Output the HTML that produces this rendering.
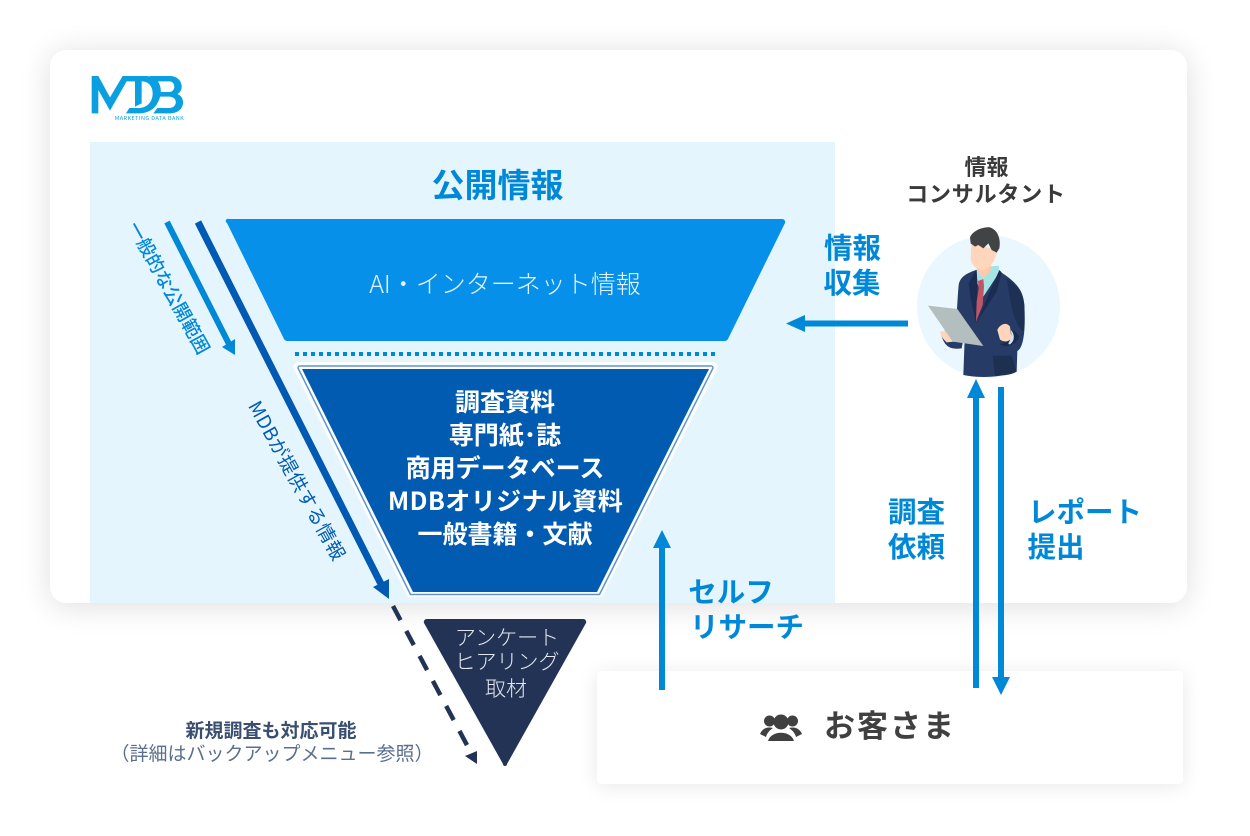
<!DOCTYPE html>
<html lang="ja"><head><meta charset="utf-8"><style>
html,body{margin:0;padding:0;background:#fff}
svg{display:block}
text{font-family:"Noto Sans CJK JP","Liberation Sans",sans-serif;text-anchor:middle}
.b{font-weight:700;fill:#0088D8;font-size:28.5px}
.w{font-weight:700;fill:#fff;font-size:25px}
</style></head><body>
<svg xmlns="http://www.w3.org/2000/svg" width="1250" height="836" viewBox="0 0 1250 836">
<defs>
<filter id="s1" x="-10%" y="-15%" width="120%" height="130%"><feGaussianBlur stdDeviation="16"/></filter>
<filter id="s2" x="-10%" y="-30%" width="120%" height="160%"><feGaussianBlur stdDeviation="10"/></filter>
</defs>
<rect x="50" y="53" width="1137" height="553" rx="16" fill="#000" opacity=".13" filter="url(#s1)"/>
<rect x="50" y="50" width="1137" height="553" rx="16" fill="#fff"/>
<rect x="90" y="142" width="745" height="461" fill="#E5F5FE"/>

<!-- logo -->
<g transform="translate(70,60) scale(.3333)" fill="#0A9FE0">
<path d="M65,48H85L120,112 158,48H228C275,48 282,98 262,130C250,152 228,160 205,160H168L178,144H205C232,144 248,125 248,100C248,78 235,64 215,64V130L195,140V64H170L120,152 85,90V160H65Z"/>
<path d="M240,48H300C338,48 345,92 322,102C350,112 345,160 300,160H250L262,144H298C322,144 326,112 298,110H268V96H298C318,96 318,64 298,64H250Z"/>
</g>
<text x="149.500" y="120" style="font-size:5.500px;font-weight:400;fill:#0A9FE0;letter-spacing:.45px">MARKETING DATA BANK</text>

<text x="497.500" y="197" style="font-size:33px;font-weight:700;fill:#0088D8">公開情報</text>

<!-- trapezoids -->
<path d="M229,219H782a3,3 0 0 1 3,4L728,339a4,4 0 0 1 -3,2H287a4,4 0 0 1 -3,-2L227,223a2,2 0 0 1 2,-4Z" fill="#0690E9"/>
<text x="505" y="293" style="font-size:25px;font-weight:300;fill:#E4F3FD">AI・インターネット情報</text>
<line x1="295" y1="354" x2="715" y2="354" stroke="#0088D8" stroke-width="4" stroke-dasharray="4 4"/>
<path d="M299,362H712a5,5 0 0 1 5,7L602,597H408L294,369a5,5 0 0 1 5,-7Z" fill="#fff"/>
<path d="M300,366H711a2,2 0 0 1 2,2L599.500,594.500H410.500L298,368a2,2 0 0 1 2,-2Z" fill="#fff" stroke="#5B96CF" stroke-width="1.500" stroke-linejoin="round"/>
<path d="M302,369H709L597,592H413Z" fill="#005BB1"/>
<text class="w" x="505" y="411">調査資料</text>
<text class="w" x="505" y="444">専門紙･誌</text>
<text class="w" x="505" y="477">商用データベース</text>
<text class="w" x="505.500" y="510" style="letter-spacing:.4px">MDBオリジナル資料</text>
<text class="w" x="505" y="543">一般書籍・文献</text>

<!-- side arrows -->
<line x1="167" y1="222" x2="229" y2="344" stroke="#0088D8" stroke-width="6"/>
<path d="M235,355L222,347L235,339Z" fill="#0088D8"/>
<line x1="198" y1="222" x2="382" y2="586" stroke="#0059B2" stroke-width="7"/>
<path d="M389,599L373,587L389,579Z" fill="#0059B2"/>
<text transform="translate(163,291) rotate(61)" style="font-size:18.500px;fill:#0088D8;font-weight:500">一般的な公開範囲</text>
<text transform="translate(291,484) rotate(61)" style="font-size:19px;fill:#005BB1;font-weight:400;letter-spacing:.5px">MDBが提供する情報</text>
<line x1="393" y1="606" x2="468" y2="747" stroke="#223355" stroke-width="4.500" stroke-dasharray="16 12.300"/>
<path d="M477,764L465,756L477,751Z" fill="#223355"/>

<!-- small triangle -->
<path d="M427,619H583a3,3 0 0 1 3,4L507,764a2,2 0 0 1 -4,0L424,623a3,3 0 0 1 3,-4Z" fill="#223355"/>
<text x="507" y="645" style="font-size:21px;fill:#E2E7ED;font-weight:300">アンケート</text>
<text x="507" y="669" style="font-size:21px;fill:#E2E7ED;font-weight:300">ヒアリング</text>
<text x="506" y="696" style="font-size:21px;fill:#E2E7ED;font-weight:300">取材</text>
<text x="271" y="737" style="font-size:19px;font-weight:700;fill:#3A4F70">新規調査も対応可能</text>
<text x="272" y="760" style="font-size:19px;font-weight:400;fill:#5A6E8E">（詳細はバックアップメニュー参照）</text>

<!-- customer box -->
<rect x="597" y="673" width="586" height="113" rx="4" fill="#000" opacity=".09" filter="url(#s2)"/>
<rect x="597" y="671" width="586" height="113" rx="4" fill="#fff"/>
<g fill="#404040">
<circle cx="781" cy="722" r="7.500"/>
<path d="M768,741C771,730 791,730 794,741Z"/>
<circle cx="769.500" cy="721" r="5.500"/><circle cx="792.500" cy="721" r="5.500"/>
<path d="M760,734C763,727 769,727 773,728C770,730 767,733 766,737Z"/>
<path d="M802,734C799,727 793,727 789,728C792,730 795,733 796,737Z"/>
</g>
<text x="890" y="737" style="font-size:31px;font-weight:700;fill:#404040;letter-spacing:2px">お客さま</text>

<!-- blue arrows -->
<g fill="#0088D8">
<rect x="659" y="546" width="6" height="144"/><path d="M662,530L653,548H671Z"/>
<rect x="802" y="320.500" width="106" height="6"/><path d="M786,323.500L805,315V332Z"/>
<rect x="973" y="396" width="6" height="292"/><path d="M976,379L967,398H985Z"/>
<rect x="998" y="387" width="6" height="292"/><path d="M1001,695L992,677H1010Z"/>
</g>
<text class="b" x="852.500" y="258">情報</text>
<text class="b" x="852" y="293">収集</text>
<text class="b" x="916.500" y="522">調査</text>
<text class="b" x="916.500" y="557">依頼</text>
<text class="b" x="1085" y="522">レポート</text>
<text class="b" x="1056" y="557">提出</text>
<text class="b" x="731" y="602">セルフ</text>
<text class="b" x="747" y="637">リサーチ</text>
<text x="986.500" y="175" style="font-size:22px;font-weight:700;fill:#3A3A3A">情報</text>
<text x="986" y="202" style="font-size:22px;font-weight:700;fill:#3A3A3A;letter-spacing:.8px">コンサルタント</text>

<!-- consultant -->
<circle cx="988.500" cy="306.500" r="71.500" fill="#EBF7FE"/>
<g transform="translate(900,215) scale(.33333)">
<path d="M228,165C200,175 180,185 176,210C172,250 172,290 165,340L195,345L190,480C240,490 300,488 350,470L352,408C372,398 377,340 373,270C370,230 355,205 300,170Z" fill="#263C66"/>
<path d="M320,190C350,210 368,230 373,270C374,300 373,330 370,350C345,330 335,290 320,190Z" fill="#1D3155"/>
<path d="M230,158L296,152 298,172 250,245 232,205Z" fill="#A5E4E4"/>
<path d="M228,165L206,205 212,250 228,325 232,200Z" fill="#1A2C52"/>
<path d="M298,165L228,325 290,230 305,172Z" fill="#1A2C52"/>
<path d="M234,198L250,192 252,215 248,270 228,320 230,260 236,222Z" fill="#C55364"/>
<path d="M230,140H272V168L250,190 230,165Z" fill="#FFC9AC"/>
<path d="M214,85L212,130C215,155 235,165 250,165C275,160 290,125 292,105Z" fill="#FFD5BB"/>
<path d="M124,362C135,395 150,405 185,400L195,345 140,340Z" fill="#263C66"/>
<path d="M120,350L160,345 185,360 180,378 140,382C128,372 122,362 120,350Z" fill="#FFD5BB"/>
<path d="M84,272L172,282 250,393 158,380Z" fill="#B3BEBF"/>
<path d="M300,388C315,398 345,395 358,365L342,345 320,380Z" fill="#1A2C52"/>
<path d="M292,345C298,330 318,318 330,335L334,368C328,382 312,382 300,374Z" fill="#FFD5BB"/>
<path d="M332,345C344,355 346,378 330,388 316,388 340,375 332,345Z" fill="#D7E3EA"/>
<path d="M278,422H335L350,470C330,482 300,482 285,482Z" fill="#1D3050"/>
<path d="M210,68C215,50 245,35 270,37C295,45 303,75 298,100L290,113 275,105 265,85 250,100 235,90 225,95 212,85Z" fill="#414345"/>
</g>
</svg>
</body></html>
